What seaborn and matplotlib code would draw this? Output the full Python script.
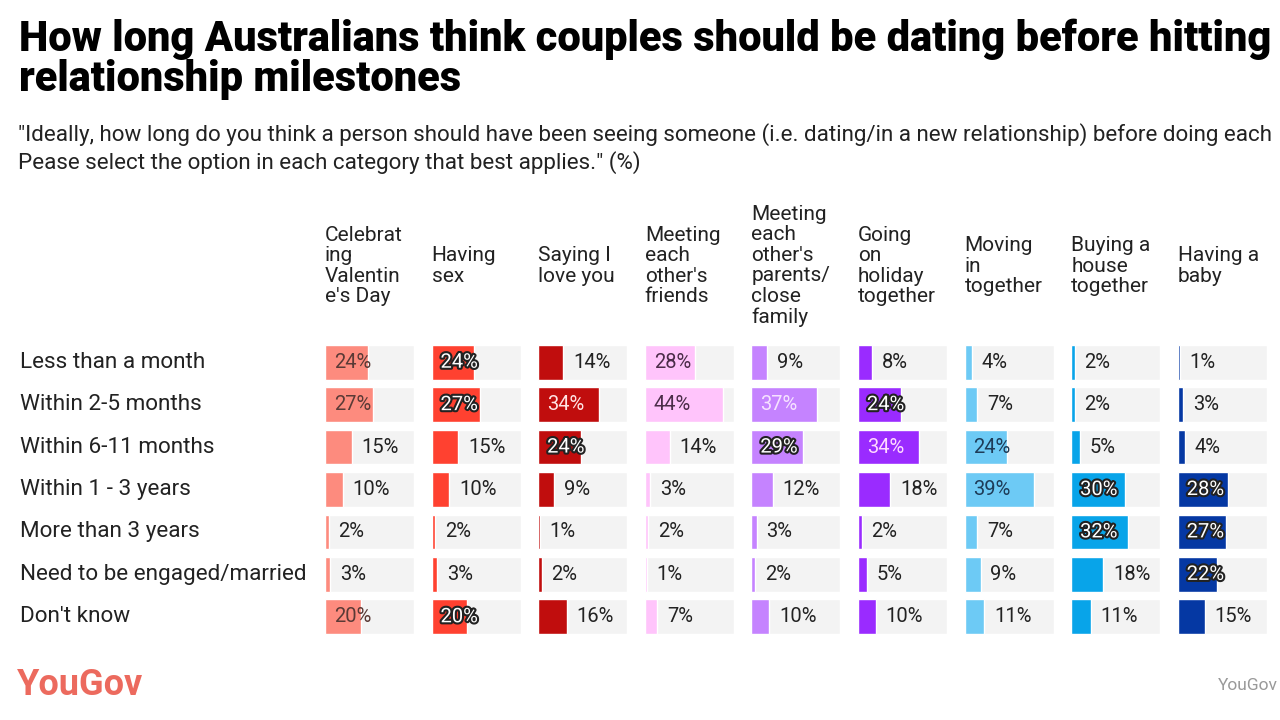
import matplotlib
matplotlib.use("Agg")
import matplotlib.pyplot as plt
import matplotlib.patheffects as pe
import matplotlib.transforms as mtransforms
import seaborn as sns
import pandas as pd

# datos
filas = ["Less than a month", "Within 2-5 months", "Within 6-11 months",
         "Within 1 - 3 years", "More than 3 years", "Need to be engaged/married",
         "Don't know"]

hitos = ["Celebrat\ning\nValentin\ne's Day", "Having\nsex", "Saying I\nlove you",
         "Meeting\neach\nother's\nfriends", "Meeting\neach\nother's\nparents/\nclose\nfamily",
         "Going\non\nholiday\ntogether", "Moving\nin\ntogether", "Buying a\nhouse\ntogether",
         "Having a\nbaby"]

valentin = [24, 27, 15, 10, 2, 3, 20]
sexo = [24, 27, 15, 10, 2, 3, 20]
te_quiero = [14, 34, 24, 9, 1, 2, 16]
amigos = [28, 44, 14, 3, 2, 1, 7]
padres = [9, 37, 29, 12, 3, 2, 10]
vacaciones = [8, 24, 34, 18, 2, 5, 10]
vivir_juntos = [4, 7, 24, 39, 7, 9, 11]
casa = [2, 2, 5, 30, 32, 18, 11]
bebe = [1, 3, 4, 28, 27, 22, 15]

series = [valentin, sexo, te_quiero, amigos, padres, vacaciones, vivir_juntos, casa, bebe]

# estilo
colores = ["#fd8b7e", "#ff4130", "#c00d0d", "#ffc4fb", "#c583ff",
           "#9a2bff", "#6dcaf5", "#08a4e9", "#0538a3"]
# color del texto dentro de la barra por columna
texto_dentro = ["#5a3a36", "white", "#ffe3e3", "#4b2d49", "#f6e2ff",
                "#ffd9ff", "#1e3c58", "white", "white"]
# etiquetas con contorno oscuro
contorno = {(1, 0), (1, 1), (1, 6), (2, 2), (4, 2), (5, 1), (7, 3), (7, 4),
            (8, 3), (8, 4), (8, 5)}
fondo = "#f3f3f3"
limite = 50
umbral = 20

sns.set_theme(style="white")
plt.rcParams["font.family"] = ["Roboto", "DejaVu Sans"]

W, H = 1280, 720
fig = plt.figure(figsize=(W / 100, H / 100), dpi=100)

fig.text(19 / W, 1 - 39 / H, "How long Australians think couples should be dating before hitting",
         fontsize=30, fontweight="black", color="black", va="center", ha="left")
fig.text(19 / W, 1 - 80 / H, "relationship milestones",
         fontsize=30, fontweight="black", color="black", va="center", ha="left")
fig.text(18 / W, 1 - 135 / H,
         "\"Ideally, how long do you think a person should have been seeing someone "
         "(i.e. dating/in a new relationship) before doing each",
         fontsize=16.1, color="#222222", va="center", ha="left")
fig.text(18 / W, 1 - 163 / H,
         "Pease select the option in each category that best applies.\" (%)",
         fontsize=16.1, color="#222222", va="center", ha="left")

paso = 106.6
ancho = 89
y_top, y_bot = 341, 638
ejes = []
for i, (nombre, valores) in enumerate(zip(hitos, series)):
    izq = 325 + paso * i
    ax = fig.add_axes([izq / W, 1 - y_bot / H, ancho / W, (y_bot - y_top) / H])
    df = pd.DataFrame({"fila": filas, "valor": valores})
    ax.barh(range(len(filas)), [limite] * len(filas), height=0.82, color=fondo, zorder=0)
    sns.barplot(data=df, x="valor", y="fila", order=filas, orient="h",
                color=colores[i], saturation=1, width=0.82, ax=ax, zorder=2)
    ax.set_xlim(0, limite)
    ax.set_ylim(len(filas) - 0.5, -0.5)
    ax.axis("off")
    for j, v in enumerate(valores):
        if v >= umbral:
            x = 5
            if (i, j) in contorno:
                t = ax.text(x, j, f"{v}%", fontsize=14.5, color="white", va="center",
                            ha="left", zorder=3)
                t.set_path_effects([pe.withStroke(linewidth=3, foreground="#222222")])
            else:
                ax.text(x, j, f"{v}%", fontsize=14.5, color=texto_dentro[i], va="center",
                        ha="left", zorder=3)
        else:
            ax.text(v + 5.5, j, f"{v}%", fontsize=14.5, color="#222222", va="center",
                    ha="left", zorder=3)
    tr = mtransforms.blended_transform_factory(ax.transAxes, fig.transFigure)
    ax.text(0, 1 - 266 / H, nombre, transform=tr, fontsize=15, color="#222222",
            va="center", ha="left", linespacing=1.1)
    ejes.append(ax)

tr_filas = mtransforms.blended_transform_factory(fig.transFigure, ejes[0].transData)
for j, f in enumerate(filas):
    fig.text(20 / W, j, f, transform=tr_filas, fontsize=16.2, color="#222222",
             va="center", ha="left")

fig.text(17 / W, 1 - 685 / H, "YouGov", fontsize=26, fontweight="bold",
         color="#ec6a5e", va="center", ha="left")
fig.text(1218 / W, 1 - 685 / H, "YouGov", fontsize=12.5, color="#999999",
         va="center", ha="left")

fig.savefig("out.png", dpi=100)
